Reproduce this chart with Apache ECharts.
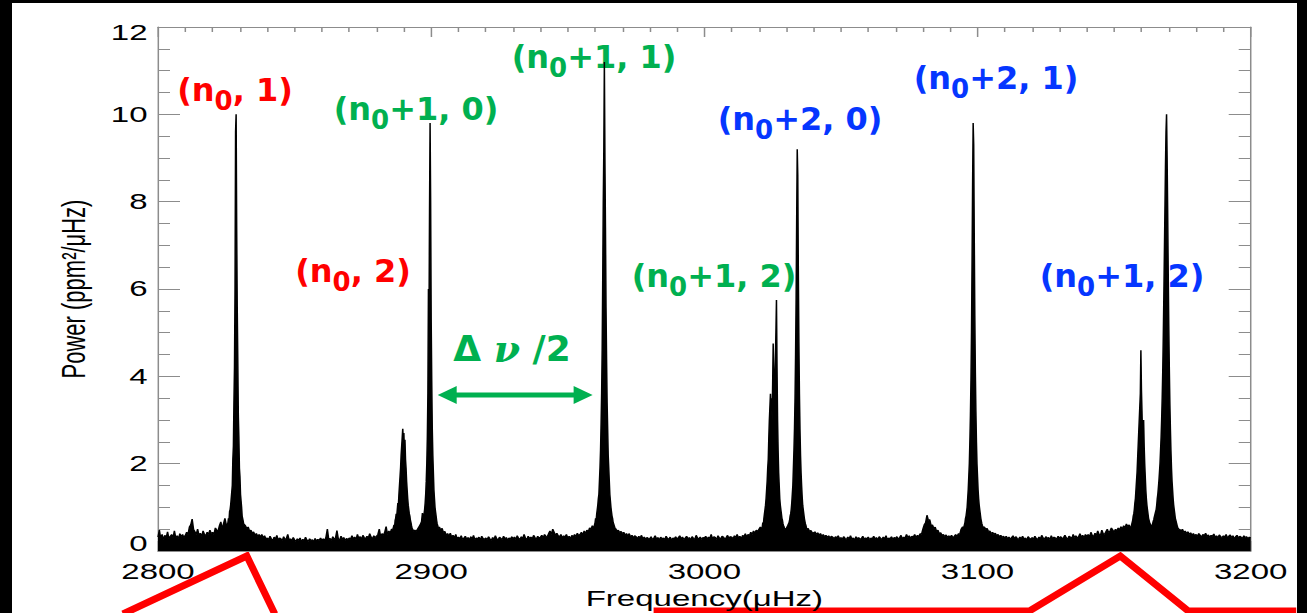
<!DOCTYPE html>
<html><head><meta charset="utf-8">
<script src="https://cdn.jsdelivr.net/npm/echarts@6/dist/echarts.min.js"></script>
<style>
html,body{margin:0;padding:0;background:#000;width:1307px;height:613px;overflow:hidden}
#paper{position:absolute;left:12px;top:3px;width:1285px;height:610px;background:#fff}
#chart{position:absolute;left:0;top:0;width:871px;height:613px;transform:scaleX(1.500574);transform-origin:0 0}
</style></head><body><div id="paper"></div><div id="chart"></div>
<script>
// ---------- data ----------
const xTicks = [2800, 2900, 3000, 3100, 3200];
const yTicks = [0, 2, 4, 6, 8, 10, 12];
const noiseStart = [2800, 2900, 3000, 3100];   // background spectrum, 0.5 uHz steps
const noiseStep = 0.5;
const noiseA = [
 .32,.48,.28,.38,.26,.36,.3,.44,.28,.34,.38,.3,.46,.3,.35,.28,.4,.33,.38,.3,
 .36,.43,.38,.55,.6,.73,.5,.44,.38,.5,.36,.41,.33,.46,.38,.35,.43,.38,.48,.4,
 .43,.38,.53,.48,.46,.58,.67,.5,.63,.75,.6,.55,.6,.7,.8,.9,1,1.2,1.5,2,
 .9,.8,.7,.62,.58,.52,.55,.46,.48,.41,.44,.36,.4,.34,.38,.32,.38,.3,.35,.28,
 .3,.26,.34,.28,.23,.32,.27,.36,.25,.3,.28,.24,.33,.26,.29,.38,.25,.28,.23,.31,
 .26,.22,.28,.24,.3,.21,.27,.23,.32,.25,.22,.28,.24,.26,.21,.29,.23,.27,.24,.3,
 .25,.28,.23,.32,.5,.26,.29,.24,.33,.27,.3,.47,.28,.25,.34,.27,.31,.24,.29,.26,
 .3,.27,.35,.28,.32,.26,.38,.29,.33,.27,.36,.31,.28,.34,.3,.4,.32,.28,.35,.31,
 .34,.38,.5,.33,.4,.36,.43,.56,.38,.46,.41,.5,.44,.53,.48,.58,.53,.6,.58,.65,
 2.6,2.2,1.6,1.2,.9,.7,.6,.5,.48,.45,.5,.55,.6,.68,.8,1.3,2.6,9.8,3.9,1.8
];
const noiseB = [
 5.3,2.8,1.8,1.2,.85,.7,.55,.48,.52,.42,.45,.36,.4,.34,.41,.32,.36,.3,.38,.28,
 .32,.28,.35,.26,.3,.34,.27,.31,.25,.33,.28,.36,.26,.3,.28,.32,.25,.34,.29,.27,
 .3,.26,.33,.28,.24,.31,.27,.35,.28,.25,.32,.29,.26,.34,.28,.31,.25,.3,.27,.33,
 .28,.32,.26,.35,.29,.27,.33,.28,.38,.3,.26,.34,.29,.32,.28,.36,.31,.27,.34,.3,
 .32,.36,.3,.38,.34,.33,.4,.46,.38,.5,.43,.36,.41,.35,.33,.38,.3,.35,.32,.38,
 .3,.34,.28,.36,.32,.38,.33,.41,.35,.38,.43,.36,.46,.4,.48,.44,.53,.5,.58,.56,
 .6,.9,1.6,3,11,4,1.9,1,.7,.6,.5,.45,.42,.4,.4,.52,.46,.48,.42,.45,
 .4,.43,.36,.4,.34,.4,.32,.36,.3,.35,.33,.28,.34,.3,.36,.28,.32,.27,.31,.29,
 .28,.33,.26,.3,.35,.27,.31,.25,.32,.28,.3,.26,.34,.29,.27,.32,.25,.3,.28,.33,
 .27,.31,.35,.28,.32,.26,.3,.34,.28,.31,.25,.33,.29,.27,.36,.3,.28,.32,.26,.31
];
const noiseC = [
 .3,.34,.27,.32,.29,.38,.28,.33,.31,.26,.35,.3,.28,.34,.32,.27,.31,.36,.29,.33,
 .32,.28,.35,.31,.38,.3,.34,.28,.36,.33,.4,.32,.38,.35,.43,.38,.46,.41,.48,.45,
 .5,.55,.6,.9,1.6,3,3.6,3.8,5,3,1.5,1,.8,.6,.5,.45,.4,.38,.35,.32,
 .52,.58,.75,1.1,1.9,2.8,5.8,9.2,4.8,2.8,1.8,1.2,.9,.7,.55,.5,.52,.45,.47,.42,
 .42,.44,.38,.42,.36,.4,.34,.38,.33,.36,.31,.35,.3,.34,.32,.28,.33,.3,.35,.28,
 .31,.27,.33,.29,.26,.32,.28,.35,.27,.3,.25,.33,.28,.31,.26,.29,.34,.27,.3,.28,
 .32,.26,.3,.28,.34,.27,.31,.25,.33,.29,.27,.32,.28,.35,.26,.3,.28,.33,.27,.31,
 .29,.33,.27,.31,.36,.28,.32,.3,.38,.31,.35,.29,.34,.32,.38,.3,.36,.33,.4,.38,
 .5,.6,.65,.82,.7,.72,.58,.6,.52,.55,.45,.48,.4,.42,.36,.38,.33,.37,.31,.35,
 .32,.36,.3,.34,.38,.33,.4,.38,.5,.55,1,2,4,9.8,5,2.5,1.4,.9,.7,.55
];
const noiseD = [
 1.7,1,.8,.6,.45,.55,.5,.52,.45,.46,.4,.43,.38,.41,.35,.38,.33,.36,.31,.34,
 .3,.34,.28,.32,.27,.31,.35,.28,.33,.29,.26,.32,.28,.34,.27,.3,.25,.33,.29,.28,
 .31,.27,.34,.29,.26,.32,.28,.36,.3,.27,.33,.29,.31,.26,.35,.28,.32,.3,.27,.34,
 .29,.33,.28,.31,.36,.3,.27,.34,.32,.28,.38,.31,.35,.29,.33,.4,.32,.36,.3,.38,
 .34,.38,.32,.43,.36,.33,.41,.35,.46,.38,.36,.48,.4,.38,.44,.5,.42,.46,.53,.48,
 .43,.5,.46,.53,.48,.56,.5,.58,.53,.62,.56,.6,.5,.6,.55,.6,.5,.6,.7,.8,
 3.7,2.8,2.4,1.7,1.2,.9,.7,.6,.55,.65,1,1.6,2.5,4.9,10,5.2,1.9,1.2,.8,.55,
 5.2,2.8,1.9,1.4,1.05,.8,.6,.45,.5,.46,.5,.43,.46,.4,.44,.38,.42,.36,.4,.35,
 .38,.34,.4,.36,.32,.38,.35,.41,.33,.37,.31,.36,.34,.39,.32,.35,.3,.37,.33,.31,
 .35,.32,.38,.3,.34,.37,.31,.35,.28,.33,.36,.3,.34,.32,.29,.35,.31,.33,.28,.32,.3
];
// mode peaks, finely sampled (0.2 uHz steps) from their start frequency
const peakStep = 0.2;
const peakStart = [2825.4, 2886.0, 2896.6, 2959.4, 3021.0, 3031.0, 3095.0, 3156.0, 3164.6];
const pk2828 = [.6,.65,.75,.7,.9,.95,1.05,1.2,1.35,1.5,2.1,2.4,3.4,4.2,6.0,9.6,10.0,7.4,5.6,4.4,3.1,2.6,1.9,1.7,1.3,1.15,1.0,.8,.8,.68,.6];
const pk2890 = [.5,.55,.6,.55,.7,.75,.85,.8,.95,1.1,1.05,1.3,1.5,1.7,1.9,2.2,2.4,2.6,2.8,2.5,2.7,2.3,2.55,2.1,1.9,1.6,1.4,1.2,1.05,.95,.85,.8,.7,.65,.58,.52,.5,.48,.45];
const pk2900 = [.75,.87,.65,.7,.85,.95,1.1,1.3,1.6,2.0,2.6,3.6,6.0,5.2,7.8,9.8,8.0,5.3,3.9,2.8,2.2,1.8,1.4,1.2,1.0,.9,.8,.7,.62,.58,.52];
const pk2963 = [.5,.55,.6,.65,.75,.7,.85,.95,1.05,1.2,1.3,1.6,1.9,2.3,2.9,3.6,4.6,6.2,8.0,9.2,11.2,9.0,7.4,5.6,4.4,3.4,2.8,2.2,1.9,1.6,1.3,1.15,1.0,.9,.8,.75,.66,.62,.58,.54,.5];
const pk3025 = [.5,.55,.65,.6,.75,.85,.95,1.05,1.2,1.4,1.6,1.9,2.1,2.6,3.0,3.3,3.6,3.2,3.5,3.0,3.8,4.75,4.0,3.4,3.9,4.4,5.0,5.75,4.2,3.0,2.3,1.8,1.5,1.2,1.05,.95,.85,.75,.7,.62,.58,.55,.5,.48];
const pk3034 = [.65,.7,.8,.85,.95,1.1,1.3,1.5,1.9,2.3,2.8,3.5,4.5,5.8,7.6,9.2,8.6,6.4,4.8,3.6,2.8,2.2,1.8,1.5,1.25,1.05,.95,.85,.75,.68,.62,.58,.52];
const pk3098 = [.55,.6,.65,.75,.8,.9,1.0,1.2,1.4,1.7,2.0,2.5,3.1,3.9,5.0,6.6,8.4,9.8,9.3,7.2,5.4,4.1,3.2,2.5,2.0,1.7,1.4,1.2,1.05,.95,.85,.75,.68,.62,.58,.55];
const pk3160 = [.5,.55,.6,.65,.7,.8,.85,.95,1.1,1.2,1.4,1.6,1.8,2.1,2.4,2.7,3.0,3.3,3.6,4.6,3.7,3.2,2.6,2.8,3.0,2.4,2.0,1.7,1.4,1.2,1.05,.95,.85,.75,.7,.65,.65,.6,.6,.55,.6,.65,.7];
const pk3169 = [.75,.8,.85,.9,.95,1.05,1.2,1.3,1.45,1.6,1.8,2.0,2.3,2.6,3.0,3.5,4.1,4.9,5.8,6.8,7.8,8.8,9.6,10.0,9.0,7.8,6.4,5.2,4.2,3.4,2.8,2.3,1.9,1.6,1.4,1.2,1.05,.95,.85,.75,.7,.65,.6,.55,.52,.5];
const labelText = ['(n{s|0}, 1)', '(n{s|0}+1, 0)', '(n{s|0}+1, 1)', '(n{s|0}, 2)', '(n{s|0}+1, 2)',
                   '(n{s|0}+2, 0)', '(n{s|0}+2, 1)', '(n{s|0}+1, 2)', 'Δ {v|ν} /2'];

// ---------- build the line table ----------
const noiseArrays = [noiseA, noiseB, noiseC, noiseD];
const peaks = [pk2828, pk2890, pk2900, pk2963, pk3025, pk3034, pk3098, pk3160, pk3169];
const windows = peaks.map((p, i) => [peakStart[i] - 0.01, peakStart[i] + (p.length - 1) * peakStep + 0.01]);
const pts = [];
noiseArrays.forEach((arr, k) => arr.forEach((v, j) => {
  const f = noiseStart[k] + j * noiseStep;
  if (!windows.some(w => f >= w[0] && f <= w[1])) pts.push([f, v]);
}));
peaks.forEach((p, k) => p.forEach((v, j) => pts.push([+(peakStart[k] + j * peakStep).toFixed(2), v])));
pts.sort((a, b) => a[0] - b[0]);

// ---------- chart ----------
const S = 1307 / 871;           // the reference is stretched horizontally
const FONT = '"Liberation Sans", Arial, Helvetica, sans-serif';
const GREY = '#8c8c8c';
const RED = '#ff0000', GREEN = '#00b050', BLUE = '#0536ff';
const chart = echarts.init(document.getElementById('chart'), null, {renderer: 'svg', width: 871, height: 613});

function xAxisDef(position, labels) {
  return {
    type: 'value', position: position, min: xTicks[0], max: xTicks[xTicks.length - 1], interval: 100,
    axisLine: {show: true, onZero: false, lineStyle: {color: GREY, width: 1}},
    axisTick: {show: true, inside: true, length: 10, lineStyle: {color: GREY, width: 1}},
    minorTick: {show: true, splitNumber: 10, length: 5, lineStyle: {color: GREY, width: 1}},
    splitLine: {show: false},
    axisLabel: {show: labels, color: '#000', fontSize: 22, fontFamily: FONT, margin: 10, formatter: v => String(v)},
    name: labels ? 'Frequency(μHz)' : '', nameLocation: 'middle', nameGap: 32,
    nameTextStyle: {color: '#000', fontSize: 22, fontFamily: FONT}
  };
}
function yAxisDef(position, labels) {
  return {
    type: 'value', position: position, min: yTicks[0], max: yTicks[yTicks.length - 1], interval: 2,
    axisLine: {show: true, onZero: false, lineStyle: {color: GREY, width: 1}},
    axisTick: {show: true, inside: true, length: 22 / S, lineStyle: {color: GREY, width: 1}},
    minorTick: {show: true, splitNumber: 4, length: 12 / S, lineStyle: {color: GREY, width: 1}},
    splitLine: {show: false},
    axisLabel: {
      show: labels, color: '#000', fontSize: 22, fontFamily: FONT, margin: 7,
      formatter: v => v === yTicks[0] ? '{b|' + v + '}' : (v === yTicks[yTicks.length - 1] ? '{t|' + v + '}' : String(v)),
      rich: {
        b: {color: '#000', fontSize: 22, fontFamily: FONT, padding: [0, 0, 14, 0]},
        t: {color: '#000', fontSize: 22, fontFamily: FONT, padding: [12, 0, 0, 0]}
      }
    },
    name: labels ? 'Power (ppm²/μHz)' : '', nameLocation: 'middle', nameGap: 45, nameRotate: 90,
    nameTextStyle: {color: '#000', fontSize: 22, fontFamily: FONT}
  };
}

const LBL = '"DejaVu Sans", "Noto Sans", sans-serif';
function modeLabel(i, cx, cy, color) {
  return {
    type: 'text', x: cx, y: cy,
    style: {
      text: labelText[i], fill: color, fontSize: 32, fontWeight: 'bold', fontFamily: LBL,
      lineHeight: 40, align: 'center', verticalAlign: 'middle',
      rich: {s: {fill: color, fontSize: 26, fontWeight: 'bold', fontFamily: LBL, padding: [22, 0, 0, 0]}}
    }
  };
}

const overlay = [
  modeLabel(0, 235, 90, RED),
  modeLabel(1, 416, 109, GREEN),
  modeLabel(2, 594, 57, GREEN),
  modeLabel(3, 353, 271, RED),
  modeLabel(4, 714, 276, GREEN),
  modeLabel(5, 800, 119, BLUE),
  modeLabel(6, 996, 78, BLUE),
  modeLabel(7, 1122, 276, BLUE),
  {type: 'text', x: 512, y: 348, style: {text: labelText[8], fill: GREEN, fontSize: 36, fontFamily: LBL,
     fontWeight: 'bold', align: 'center', verticalAlign: 'middle',
     rich: {v: {fill: GREEN, fontSize: 38, fontFamily: '"DejaVu Serif", serif', fontStyle: 'italic', fontWeight: 'bold'}}}},
  {type: 'polyline', shape: {points: [[452, 395], [579, 395]]}, style: {stroke: GREEN, lineWidth: 5, fill: null}},
  {type: 'polygon', shape: {points: [[438, 395], [457, 386], [457, 404]]}, style: {fill: GREEN}},
  {type: 'polygon', shape: {points: [[593, 395], [574, 386], [574, 404]]}, style: {fill: GREEN}},
  {type: 'polyline', shape: {points: [[123, 614], [247, 556], [275, 614]]},
     style: {stroke: RED, lineWidth: 7, fill: null, lineJoin: 'miter'}},
  {type: 'polyline', shape: {points: [[654, 611], [1030, 611], [1121, 556], [1189, 611], [1297, 611]]},
     style: {stroke: RED, lineWidth: 7, fill: null, lineJoin: 'miter'}}
];

chart.setOption({
  animation: false,
  backgroundColor: 'transparent',
  grid: {left: 158 / S, right: 871 - 1250.7 / S, top: 27, bottom: 62, containLabel: false, outerBoundsMode: 'none'},
  xAxis: [xAxisDef('bottom', true), xAxisDef('top', false)],
  yAxis: [yAxisDef('left', true), yAxisDef('right', false)],
  series: [{
    type: 'line', data: pts, xAxisIndex: 0, yAxisIndex: 0,
    symbol: 'none', showSymbol: false, sampling: null, silent: true, clip: true,
    lineStyle: {color: '#000', width: 1}, areaStyle: {color: '#000', opacity: 1}
  }],
  graphic: [{type: 'group', x: 0, y: 0, scaleX: 1 / S, z: 100, children: overlay}]
});
</script></body></html>
